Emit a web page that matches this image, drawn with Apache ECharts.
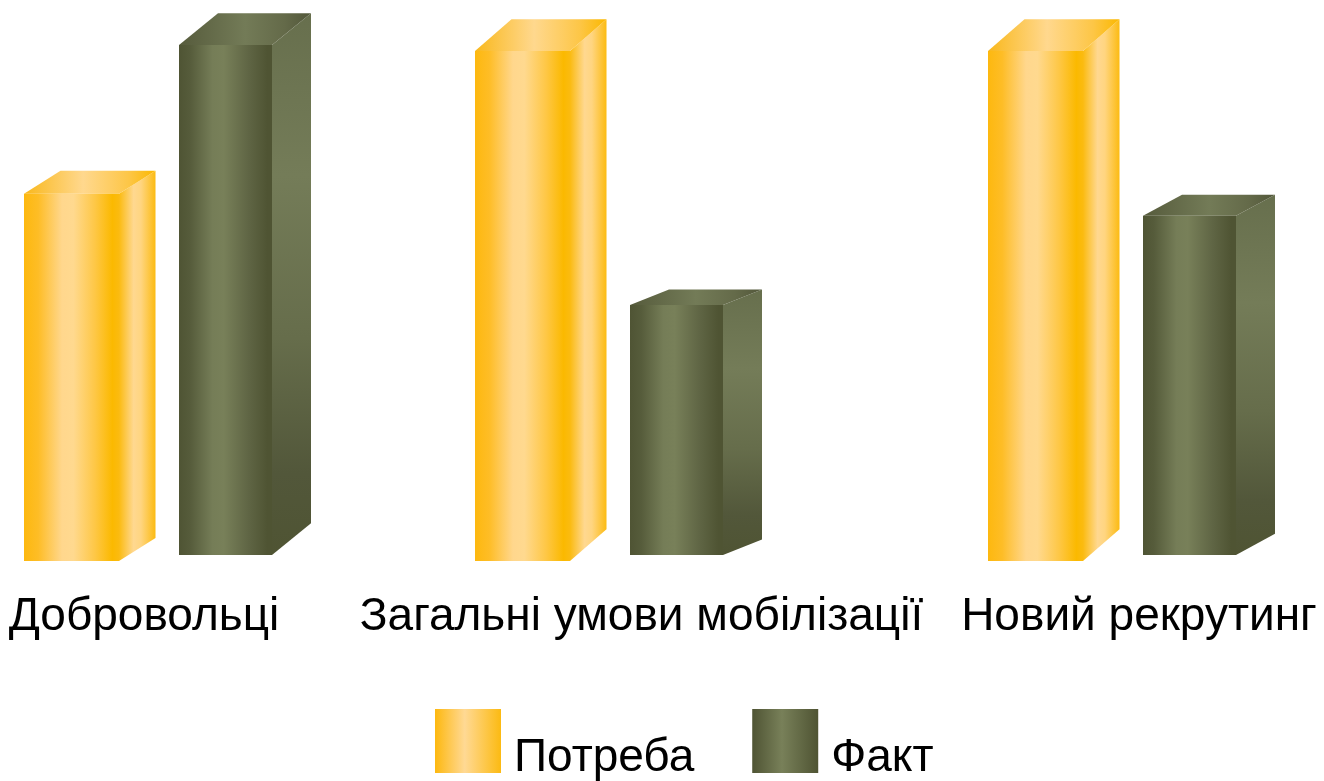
<!DOCTYPE html>
<html>
<head>
<meta charset="utf-8">
<style>html,body{margin:0;padding:0;background:#fff}#c{width:1324px;height:781px}</style>
<script src="https://cdn.jsdelivr.net/npm/echarts@6/dist/echarts.min.js"></script>
</head>
<body>
<div id="c"></div>
<script>
const categories = ['Добровольці', 'Загальні умови мобілізації', 'Новий рекрутинг'];
const seriesNames = ['Потреба', 'Факт'];
const need = [72, 100, 100];
const fact = [100, 49, 66.5];

const FONT = '"Liberation Sans",sans-serif';
const groupShift = [-120, -166.5, -151];
const lin = (stops, vertical) => ({
  type: 'linear', x: 0, y: 0, x2: vertical ? 0 : 1, y2: vertical ? 1 : 0, global: false,
  colorStops: stops.map(s => ({offset: s[0], color: s[1]}))
});
const looks = [
  {
    shift: 0, base: 0, width: 95, dx: 36.5,
    front: lin([[0,'#FDB80F'],[0.15,'#FEBD26'],[0.4,'#FFD78D'],[0.52,'#FFD98F'],[0.75,'#FEC745'],[0.93,'#FBB900'],[1,'#FBBB10']]),
    side: lin([[0,'#FBBB10'],[0.4,'#FFD890'],[0.6,'#FFD580'],[1,'#FCBB12']]),
    top: lin([[0,'#F9B81C'],[0.45,'#FFD88E'],[0.8,'#FDC646'],[1,'#FBB800']]),
    legend: lin([[0,'#FDB80F'],[0.45,'#FFD994'],[1,'#FCBA12']])
  },
  {
    shift: 155, base: -6, width: 93, dx: 39,
    front: lin([[0,'#4F5434'],[0.12,'#565C3B'],[0.36,'#757D57'],[0.48,'#788059'],[0.75,'#5F6544'],[0.95,'#4F5433'],[1,'#4F5433']]),
    side: lin([[0,'#676F4D'],[0.3,'#747C58'],[0.6,'#666D4B'],[0.85,'#52573A'],[1,'#4F5433']], true),
    top: lin([[0,'#565B3C'],[0.5,'#737B57'],[0.8,'#646A49'],[1,'#52573A']]),
    legend: lin([[0,'#4F5434'],[0.45,'#788059'],[1,'#4F5433']])
  }
];

function bar3d(look) {
  return function (params, api) {
    const i = api.value(0);
    const c = api.coord([i, api.value(1)]);
    const z = api.coord([i, 0]);
    const left = c[0] + groupShift[i] + look.shift;
    const right = left + look.width;
    const y0 = c[1] + look.base;
    const y1 = z[1] + look.base;
    const dy = (y1 - y0) / 16;
    const dx = look.dx;
    return {
      type: 'group',
      children: [
        {type: 'polygon', shape: {points: [[right, y0], [right + dx, y0 - dy], [right + dx, y1 - dy], [right, y1]]}, style: {fill: look.side}},
        {type: 'polygon', shape: {points: [[left, y0], [left + dx, y0 - dy], [right + dx, y0 - dy], [right, y0]]}, style: {fill: look.top}},
        {type: 'rect', shape: {x: left, y: y0, width: look.width, height: y1 - y0}, style: {fill: look.front}}
      ]
    };
  };
}

const chart = echarts.init(document.getElementById('c'));
chart.setOption({
  animation: false,
  backgroundColor: '#fff',
  grid: {left: 144, width: 995, top: 51, bottom: 220, outerBoundsMode: 'none'},
  legend: {
    left: 435, top: 709, icon: 'rect', padding: 0,
    itemWidth: 66, itemHeight: 64, itemGap: 58,
    data: seriesNames,
    formatter: '{t|{name}}',
    textStyle: {rich: {t: {fontFamily: FONT, fontSize: 46, color: '#000', padding: [34, 0, 0, 8]}}}
  },
  xAxis: {
    type: 'category', data: categories, boundaryGap: false,
    axisLine: {show: false}, axisTick: {show: false},
    axisLabel: {interval: 0, margin: 33, fontFamily: FONT, fontSize: 46, color: '#000'}
  },
  yAxis: {type: 'value', min: 0, max: 100, show: false},
  series: [need, fact].map((vals, k) => ({
    name: seriesNames[k],
    type: 'custom',
    coordinateSystem: 'cartesian2d',
    encode: {x: 0, y: 1},
    itemStyle: {color: looks[k].legend},
    renderItem: bar3d(looks[k]),
    data: vals.map((v, i) => [i, v])
  }))
});
</script>
</body>
</html>
